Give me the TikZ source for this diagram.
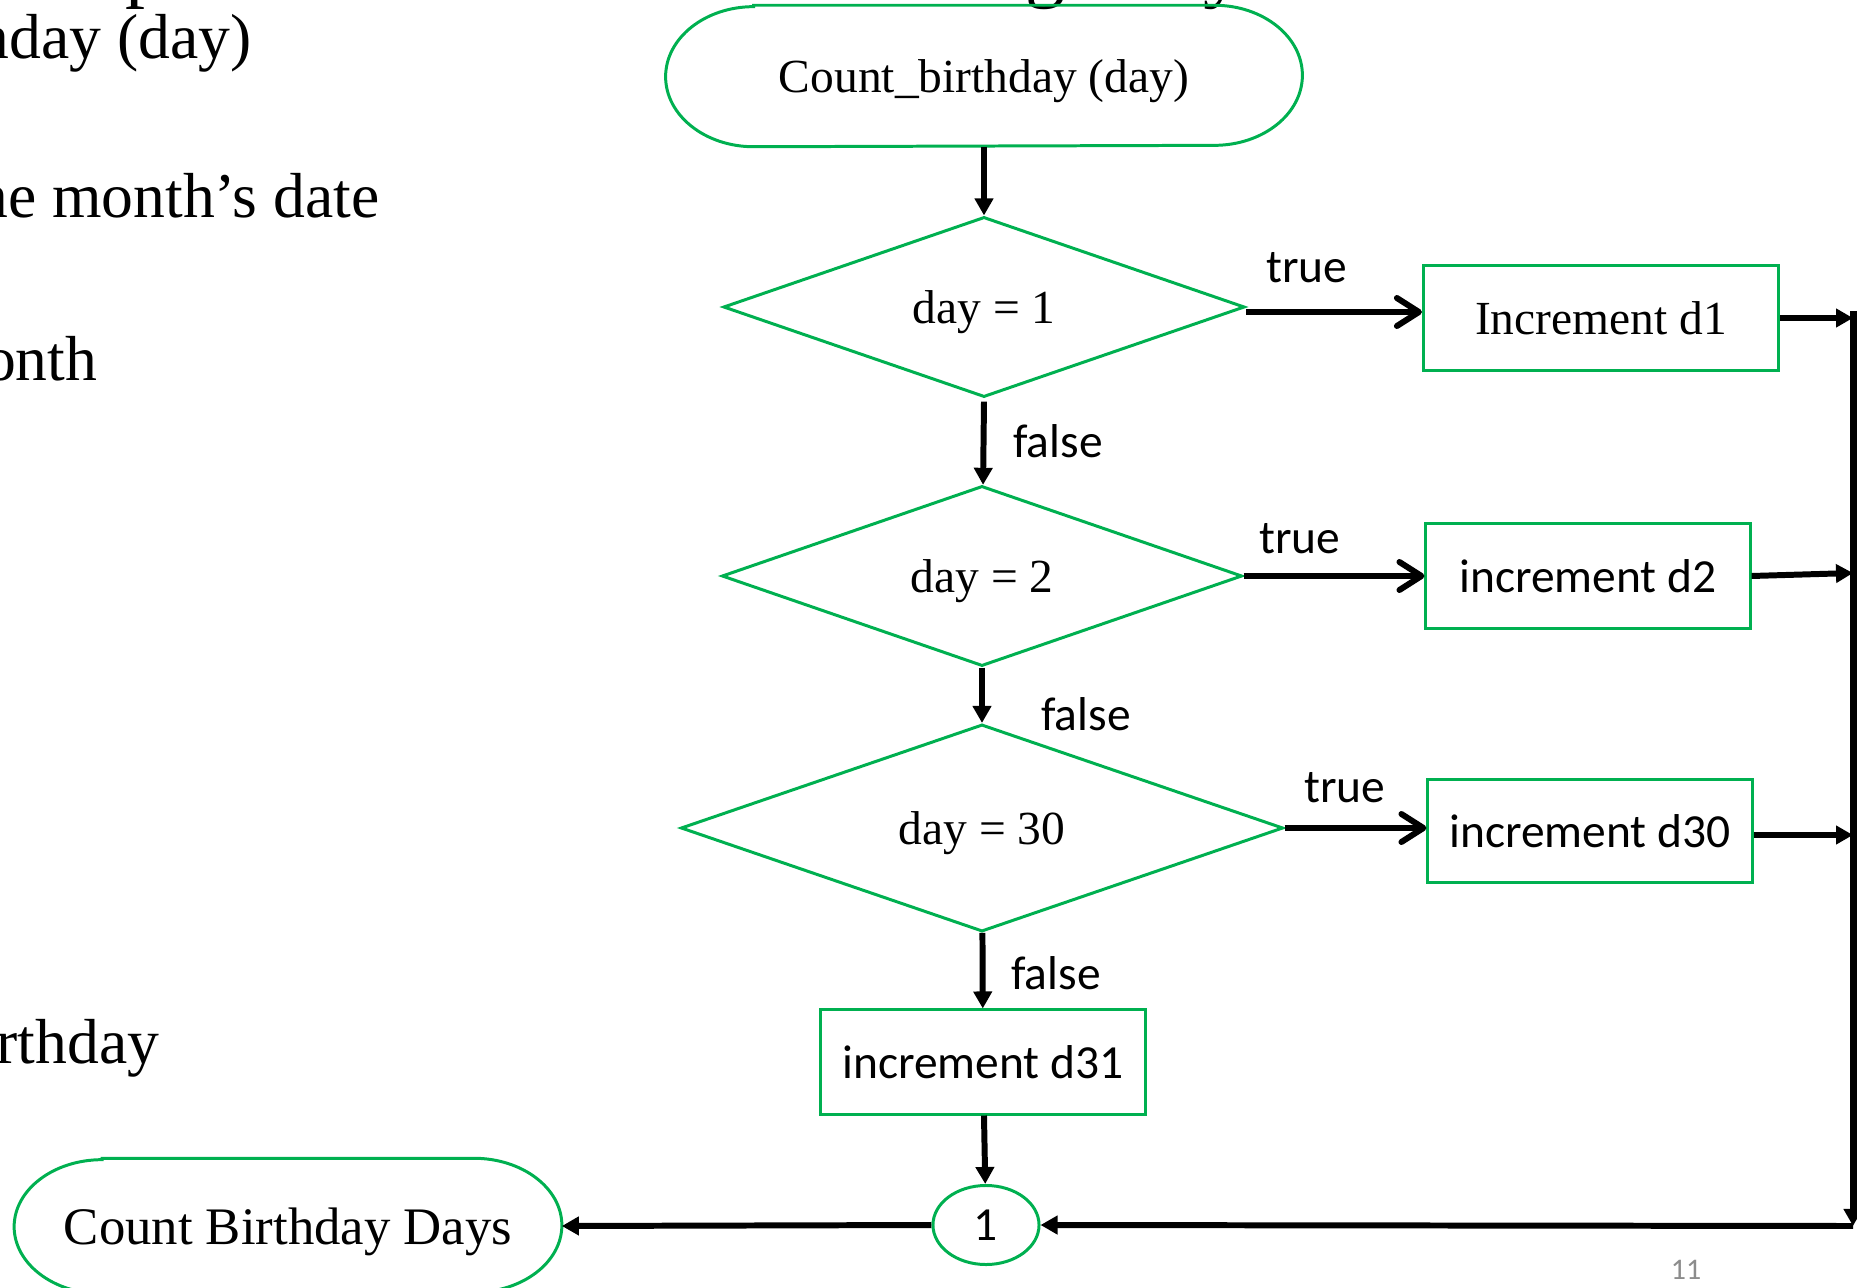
\documentclass[tikz,border=0pt]{standalone}
\usepackage{fontspec}
\setmainfont{Liberation Serif}
\newfontfamily\calibrifont{Carlito}
\usetikzlibrary{shapes.geometric,arrows.meta}
\definecolor{flowgreen}{HTML}{00B050}
\definecolor{pagegray}{HTML}{8C8C8C}

\begin{document}
\begin{tikzpicture}[x=0.01cm,y=-0.01cm,
  outline/.style={draw=flowgreen,line width=0.85pt},
  serifmid/.style={font=\fontsize{13.5pt}{16pt}\selectfont,text depth=0pt},
  sansmid/.style={font=\calibrifont\fontsize{13.5pt}{16pt}\selectfont},
  sidetext/.style={anchor=base east,inner sep=0pt,font=\fontsize{18.1pt}{21pt}\selectfont},
  decision/.style={diamond,outline,inner sep=0pt,shape aspect=2.9,serifmid},
  procbox/.style={rectangle,outline,inner sep=0pt,minimum width=3.24cm,minimum height=1.05cm,sansmid},
  terminal/.style={rectangle,inner sep=0pt},
  branchlabel/.style={anchor=base,inner sep=0pt,sansmid},
  arr/.style={line width=1.7pt,-{Triangle[length=0.17cm,width=0.18cm]}},
  truearr/.style={line width=1.7pt,-{Straight Barb[round,length=0.22cm,width=0.28cm]}},
  busline/.style={line width=2pt},
]
\useasboundingbox (0,0) rectangle (1857,1288);
\clip (0,0) rectangle (1857,1288);

% text running in from the left margin
\node[sidetext] (l1) at (252,59) {nday (day)};
\node[sidetext] (l2) at (380,218) {ne month’s date};
\node[sidetext] (l3) at (98,380) {month};
\node[sidetext] (l4) at (160,1063) {birthday};

% descenders of the heading above the top edge
\node[anchor=base west,inner sep=0pt,font=\fontsize{22.7pt}{26pt}\selectfont] (hp) at (125,-7) {p};
\node[anchor=base west,inner sep=0pt,font=\fontsize{22.7pt}{26pt}\selectfont] (hg) at (1025,-7) {g};
\node[anchor=base west,inner sep=0pt,font=\fontsize{22.7pt}{26pt}\selectfont] (hy) at (1203,-7) {y};

% start terminal
\node[terminal,minimum width=6.35cm,minimum height=1.40cm,serifmid] (s) at (984,76) {Count\_birthday (day)};
\draw[outline] ([xshift=0.88cm]s.north west) -- ([xshift=-0.88cm]s.north east)
  arc[start angle=90,end angle=-90,x radius=0.88cm,y radius=0.70cm]
  -- ([xshift=0.88cm]s.south west)
  arc[start angle=270,end angle=90,x radius=0.88cm,y radius=0.70cm] -- cycle;

% decisions
\node[decision,minimum width=5.21cm,minimum height=1.80cm] (d1) at (984,307) {day = 1};
\node[decision,minimum width=5.20cm,minimum height=1.80cm] (d2) at (982,576) {day = 2};
\node[decision,minimum width=6.02cm,minimum height=2.07cm] (d3) at (982,828) {day = 30};

% process boxes
\node[procbox,minimum width=3.55cm,serifmid] (b1) at (1601,318) {Increment d1};
\node[procbox] (b2) at (1588,576) {increment d2};
\node[procbox,minimum height=1.03cm] (b30) at (1590,831) {increment d30};
\node[procbox,minimum height=1.04cm] (b31) at (983,1062) {increment d31};

% on-page connector
\node[ellipse,outline,inner sep=0pt,minimum width=1.06cm,minimum height=0.79cm,sansmid] (c1) at (986,1225) {1};

% end terminal
\node[terminal,minimum width=5.46cm,minimum height=1.34cm,font=\fontsize{15pt}{18pt}\selectfont,text depth=0pt] (e) at (288,1226) {Count Birthday Days};
\draw[outline] ([xshift=0.88cm]e.north west) -- ([xshift=-0.88cm]e.north east)
  arc[start angle=90,end angle=-90,x radius=0.88cm,y radius=0.67cm]
  -- ([xshift=0.88cm]e.south west)
  arc[start angle=270,end angle=90,x radius=0.88cm,y radius=0.67cm] -- cycle;

% collecting line on the right
\coordinate (rtop) at (1853,311);
\coordinate (rbot) at (1853,1226);

% main flow
\draw[arr] (s) -- (d1);
\draw[arr] ([yshift=-0.03cm]d1.south) -- (d2);
\draw[arr] (d2) -- (d3);
\draw[arr] (d3) -- (b31);
\draw[arr] (b31) -- (c1);

% true branches
\draw[truearr] ([yshift=-0.05cm]d1.east) -- ([yshift=-0.05cm]d1.east -| b1.west);
\draw[truearr] (d2.east) -- (d2.east -| b2.west);
\draw[truearr] (d3.east) -- (d3.east -| b30.west);

% branch labels
\node[branchlabel] (t1) at (1307,283) {true};
\node[branchlabel] (t2) at (1300,553) {true};
\node[branchlabel] (t3) at (1345,802) {true};
\node[branchlabel] (f1) at (1058,457) {false};
\node[branchlabel] (f2) at (1086,730) {false};
\node[branchlabel] (f3) at (1056,989) {false};

% boxes into the collecting line
\draw[arr] (b1.east) -- (b1.east -| rtop);
\draw[arr] (b2.east) -- ([yshift=0.03cm]b2.east -| rtop);
\draw[arr] ([yshift=-0.04cm]b30.east) -- ([yshift=-0.04cm]b30.east -| rtop);
\draw[busline,-{Triangle[length=0.17cm,width=0.18cm]}] (rtop) -- (rbot);
\draw[arr] (rbot) -- (c1.east);
\draw[arr] (c1.west) -- (e.east);

% page number
\node[inner sep=0pt,text=pagegray,font=\calibrifont\fontsize{8.5pt}{10pt}\selectfont] (pg) at (1686,1270) {11};
\end{tikzpicture}
\end{document}
